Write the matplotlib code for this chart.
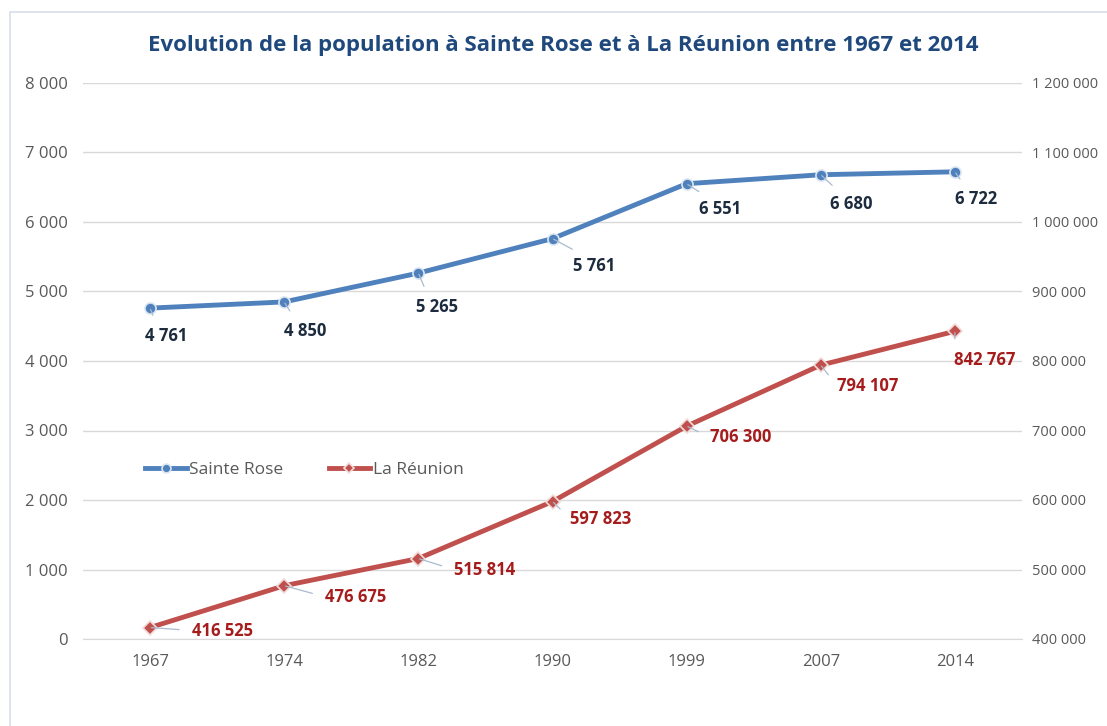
import matplotlib
matplotlib.use("Agg")
import matplotlib.pyplot as plt
from matplotlib.patches import Rectangle
from matplotlib.ticker import FuncFormatter, MultipleLocator

# Population data
years = ["1967", "1974", "1982", "1990", "1999", "2007", "2014"]
sainte_rose = [4761, 4850, 5265, 5761, 6551, 6680, 6722]
la_reunion = [416525, 476675, 515814, 597823, 706300, 794107, 842767]

series_names = ["Sainte Rose", "La Réunion"]
title = "Evolution de la population à Sainte Rose et à La Réunion entre 1967 et 2014"

# Label offsets (pixels, x right / y up) from each point
sr_offsets = [(16, -28), (21, -29), (19, -34), (42, -27), (33, -25), (30, -29), (21, -27)]
re_offsets = [(72, -3), (71, -11), (66, -11), (48, -17), (54, -11), (47, -21), (30, -29)]

BLUE = "#4F81BD"
RED = "#C0504D"
SR_TXT = "#1C2B3E"
RE_TXT = "#A61C1C"
TICK = "#595959"
GRID = "#D9D9D9"
LEADER = "#A9BBD0"

plt.rcParams["font.family"] = ["Liberation Sans Narrow", "Open Sans", "DejaVu Sans"]

fig = plt.figure(figsize=(11.07, 7.26), dpi=100)
fig.patch.set_facecolor("white")

# Chart frame
fig.patches.append(Rectangle((10 / 1107, -0.1), 1.2, 1 - 12 / 726 + 0.1,
                             transform=fig.transFigure, fill=False,
                             edgecolor="#D5DEE8", lw=1.2))

ax = fig.add_axes([83 / 1107, 1 - 639 / 726, (1022 - 83) / 1107, (639 - 83) / 726])
ax2 = ax.twinx()

x = list(range(len(years)))
ax.set_xlim(-0.5, len(years) - 0.5)
ax.set_ylim(0, 8000)
ax2.set_ylim(400000, 1200000)

ax.yaxis.set_major_locator(MultipleLocator(1000))
ax2.yaxis.set_major_locator(MultipleLocator(100000))
fmt = FuncFormatter(lambda v, p: f"{int(v):,}".replace(",", " "))
ax.yaxis.set_major_formatter(fmt)
ax2.yaxis.set_major_formatter(fmt)

ax.set_xticks(x)
ax.set_xticklabels(years)
ax.grid(axis="y", color=GRID, lw=1)
ax.set_axisbelow(True)
for a in (ax, ax2):
    for s in a.spines.values():
        s.set_visible(False)
    a.tick_params(length=0, colors=TICK, labelsize=12)
ax.spines["bottom"].set_visible(True)
ax.spines["bottom"].set_color(GRID)
ax.tick_params(axis="y", pad=11)
ax.tick_params(axis="x", pad=11)
ax2.tick_params(axis="y", pad=7, labelsize=10.5)

l1, = ax.plot(x, sainte_rose, color=BLUE, lw=3.5, marker="o", ms=8,
              mfc=BLUE, mec="#DCE6F2", mew=1.2, label=series_names[0], zorder=3)
l2, = ax2.plot(x, la_reunion, color=RED, lw=3.5, marker="D", ms=7,
               mfc=RED, mec="#F2DCDB", mew=1.2, label=series_names[1], zorder=3)

for xi, v, (dx, dy) in zip(x, sainte_rose, sr_offsets):
    ax.annotate(f"{v:,}".replace(",", " "), (xi, v), xytext=(dx, dy),
                textcoords="offset pixels", ha="center", va="center",
                fontsize=12, fontweight="bold", color=SR_TXT,
                arrowprops=dict(arrowstyle="-", color=LEADER, lw=0.9,
                                shrinkA=7, shrinkB=1, relpos=(0.3, 1.0)))

for xi, v, (dx, dy) in zip(x, la_reunion, re_offsets):
    ax2.annotate(f"{v:,}".replace(",", " "), (xi, v), xytext=(dx, dy),
                 textcoords="offset pixels", ha="center", va="center",
                 fontsize=12, fontweight="bold", color=RE_TXT,
                 arrowprops=dict(arrowstyle="-", color=LEADER, lw=0.9,
                                 shrinkA=7, shrinkB=1, relpos=(0.0, 0.5)))

leg = ax2.legend(handles=[l1, l2], loc="center left",
                 bbox_to_anchor=((145 - 83) / 939, (639 - 470) / 556),
                 frameon=False, fontsize=12.5, handlelength=2.4,
                 handletextpad=0.15, columnspacing=2.6, ncol=2,
                 borderaxespad=0, borderpad=0, markerscale=0.8)
for t in leg.get_texts():
    t.set_color(TICK)

fig.text(0.5 * (152 + 975) / 1107, 1 - 45 / 726, title, ha="center", va="center",
         fontsize=16, fontweight="bold", color="#1F497D")

fig.savefig("out.png", dpi=100, facecolor="white")
